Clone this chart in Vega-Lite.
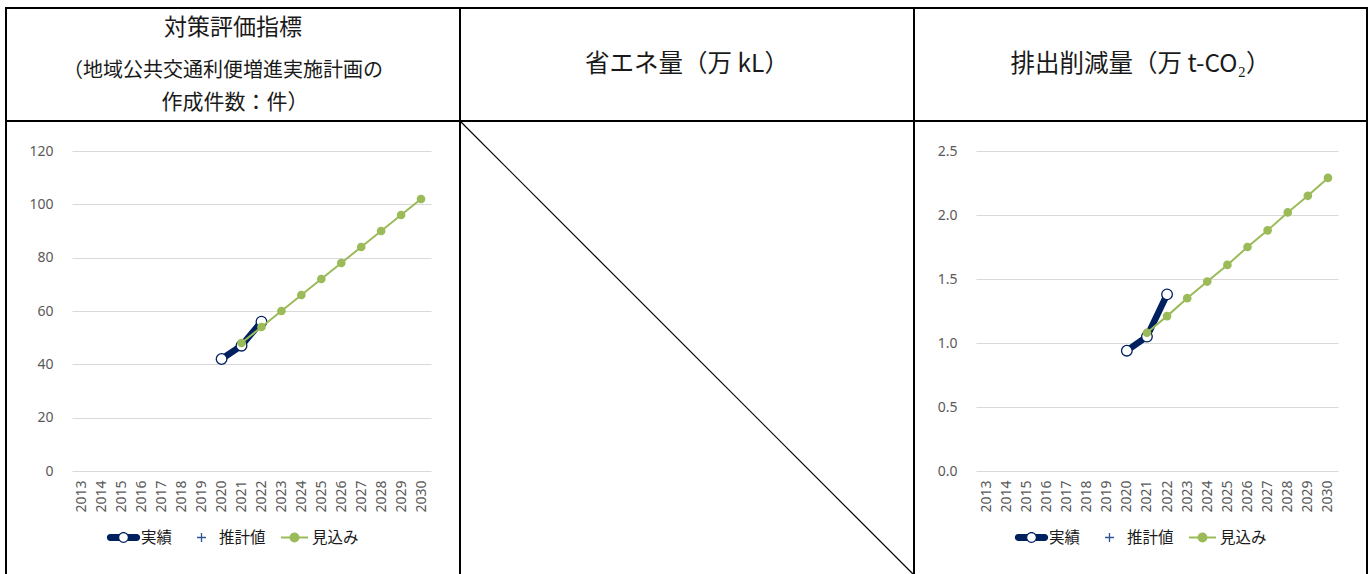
{
  "$schema": "https://vega.github.io/schema/vega-lite/v6.json",
  "background": "white",
  "padding": {"left": 5, "top": 7, "right": 0, "bottom": 0},
  "config": {
    "view": {"stroke": "#000000", "strokeWidth": 2},
    "concat": {"spacing": 0},
    "font": "Noto Sans CJK JP"
  },
  "datasets": {
    "count": [
      {"series": "実績", "year": 2020, "value": 42},
      {"series": "実績", "year": 2021, "value": 47},
      {"series": "実績", "year": 2022, "value": 56},
      {"series": "見込み", "year": 2021, "value": 48},
      {"series": "見込み", "year": 2022, "value": 54},
      {"series": "見込み", "year": 2023, "value": 60},
      {"series": "見込み", "year": 2024, "value": 66},
      {"series": "見込み", "year": 2025, "value": 72},
      {"series": "見込み", "year": 2026, "value": 78},
      {"series": "見込み", "year": 2027, "value": 84},
      {"series": "見込み", "year": 2028, "value": 90},
      {"series": "見込み", "year": 2029, "value": 96},
      {"series": "見込み", "year": 2030, "value": 102}
    ],
    "co2": [
      {"series": "実績", "year": 2020, "value": 0.94},
      {"series": "実績", "year": 2021, "value": 1.05},
      {"series": "実績", "year": 2022, "value": 1.38},
      {"series": "見込み", "year": 2021, "value": 1.08},
      {"series": "見込み", "year": 2022, "value": 1.21},
      {"series": "見込み", "year": 2023, "value": 1.35},
      {"series": "見込み", "year": 2024, "value": 1.48},
      {"series": "見込み", "year": 2025, "value": 1.61},
      {"series": "見込み", "year": 2026, "value": 1.75},
      {"series": "見込み", "year": 2027, "value": 1.88},
      {"series": "見込み", "year": 2028, "value": 2.02},
      {"series": "見込み", "year": 2029, "value": 2.15},
      {"series": "見込み", "year": 2030, "value": 2.29}
    ],
    "diag": [{"p": 0, "q": 1}, {"p": 1, "q": 0}],
    "titles": [{"l1": "対策評価指標", "l2": "（地域公共交通利便増進実施計画の", "l3": "作成件数：件）", "t2": "省エネ量（万 kL）", "t3": "排出削減量（万 t-CO₂）"}]
  },
  "columns": 3,
  "spacing": 0,
  "bounds": "flush",
  "align": "each",
  "resolve": {"scale": {"color": "independent", "shape": "independent"}, "legend": {"color": "independent", "shape": "independent"}},
  "concat": [
    {
      "width": 454, "height": 113,
      "data": {"name": "titles"},
      "encoding": {
        "x": {"datum": 0.5, "type": "quantitative", "scale": {"domain": [0, 1]}, "axis": null},
        "y": {"datum": 0.5, "type": "quantitative", "scale": {"domain": [0, 1]}, "axis": null}
      },
      "layer": [
        {"mark": {"type": "text", "fontSize": 23, "dy": -37, "color": "#1a1a1a"}, "encoding": {"text": {"field": "l1"}}},
        {"mark": {"type": "text", "fontSize": 20, "dy": 6, "dx": -10, "color": "#1a1a1a"}, "encoding": {"text": {"field": "l2"}}},
        {"mark": {"type": "text", "fontSize": 21, "dy": 38.5, "dx": 2, "color": "#1a1a1a"}, "encoding": {"text": {"field": "l3"}}}
      ]
    },
    {
      "width": 454, "height": 113,
      "data": {"name": "titles"},
      "mark": {"type": "text", "fontSize": 24.5, "color": "#1a1a1a"},
      "encoding": {
        "x": {"datum": 0.5, "type": "quantitative", "scale": {"domain": [0, 1]}, "axis": null},
        "y": {"datum": 0.5, "type": "quantitative", "scale": {"domain": [0, 1]}, "axis": null},
        "text": {"field": "t2"}
      }
    },
    {
      "width": 453, "height": 113,
      "data": {"name": "titles"},
      "mark": {"type": "text", "fontSize": 24.5, "color": "#1a1a1a"},
      "encoding": {
        "x": {"datum": 0.5, "type": "quantitative", "scale": {"domain": [0, 1]}, "axis": null},
        "y": {"datum": 0.5, "type": "quantitative", "scale": {"domain": [0, 1]}, "axis": null},
        "text": {"field": "t3"}
      }
    },
    {
      "width": 454, "height": 454,
      "data": {"name": "count"},
      "encoding": {
        "x": {"field": "year", "type": "ordinal",
          "scale": {"type": "point", "domain": [2013,2014,2015,2016,2017,2018,2019,2020,2021,2022,2023,2024,2025,2026,2027,2028,2029,2030], "range": [66, 425], "padding": 0.5},
          "axis": {"title": null, "orient": "bottom", "offset": -104, "labelAngle": 270, "labelPadding": 9, "domain": false, "ticks": false, "grid": false, "labelFontSize": 14, "labelColor": "#595959", "labelFont": "Noto Sans"}},
        "y": {"field": "value", "type": "quantitative",
          "scale": {"domain": [0, 120], "range": [350, 30], "nice": false},
          "axis": {"title": null, "orient": "left", "offset": -49, "values": [0, 20, 40, 60, 80, 100, 120], "grid": true, "gridColor": "#d9d9d9", "gridWidth": 1, "domain": false, "ticks": false, "labelPadding": 2, "labelFontSize": 14, "labelColor": "#595959", "labelFont": "Noto Sans"}}
      },
      "layer": [
        {"transform": [{"filter": "datum.series === '実績'"}], "mark": {"type": "line", "color": "#002060", "strokeWidth": 6.5, "strokeCap": "round"}},
        {"transform": [{"filter": "datum.series === '実績'"}], "mark": {"type": "point", "shape": "circle", "filled": true, "fill": "white", "stroke": "#002060", "strokeWidth": 1.3, "size": 113, "opacity": 1}},
        {"transform": [{"filter": "datum.series === '見込み'"}], "mark": {"type": "line", "color": "#9bbb59", "strokeWidth": 2}},
        {"transform": [{"filter": "datum.series === '見込み'"}], "mark": {"type": "point", "shape": "circle", "filled": true, "color": "#9bbb59", "size": 75, "opacity": 1}},
        {
          "transform": [{"filter": "false"}],
          "mark": {"type": "point", "filled": true, "opacity": 1},
          "encoding": {
            "color": {"field": "series", "type": "nominal",
              "scale": {"domain": ["実績", "推計値", "見込み"], "range": ["#002060", "#2f5597", "#9bbb59"]},
              "legend": {"orient": "none", "legendX": 101, "legendY": 400, "direction": "horizontal", "title": null, "symbolSize": 1089, "symbolStrokeWidth": 0, "symbolOpacity": 1, "labelFontSize": 15.5, "labelColor": "#1a1a1a", "labelFont": "Noto Sans CJK JP", "columnPadding": 12, "labelOffset": 1, "padding": 0}},
            "shape": {"field": "series", "type": "nominal",
              "scale": {"domain": ["実績", "推計値", "見込み"], "range": [
                "M -0.8 -0.21 L -0.26 -0.21 L -0.26 0.21 L -0.8 0.21 A 0.21 0.21 0 0 1 -0.8 -0.21 Z M 0.26 -0.21 L 0.8 -0.21 A 0.21 0.21 0 0 1 0.8 0.21 L 0.26 0.21 Z M -0.33 0 A 0.33 0.33 0 1 1 0.33 0 A 0.33 0.33 0 1 1 -0.33 0 Z M -0.26 0 A 0.26 0.26 0 1 0 0.26 0 A 0.26 0.26 0 1 0 -0.26 0 Z",
                "M -0.27 -0.04 L 0.27 -0.04 L 0.27 0.04 L -0.27 0.04 Z M -0.04 -0.27 L 0.04 -0.27 L 0.04 0.27 L -0.04 0.27 Z",
                "M -0.82 -0.06 L 0.82 -0.06 L 0.82 0.06 L -0.82 0.06 Z M -0.3 0 A 0.3 0.3 0 1 1 0.3 0 A 0.3 0.3 0 1 1 -0.3 0 Z"
              ]},
              "legend": {"orient": "none", "legendX": 101, "legendY": 400, "direction": "horizontal", "title": null, "symbolSize": 1089, "symbolStrokeWidth": 0, "symbolOpacity": 1, "labelFontSize": 15.5, "labelColor": "#1a1a1a", "labelFont": "Noto Sans CJK JP", "columnPadding": 12, "labelOffset": 1, "padding": 0}}
          }
        }
      ]
    },
    {
      "width": 454, "height": 454,
      "data": {"name": "diag"},
      "mark": {"type": "line", "color": "#000000", "strokeWidth": 1.2},
      "encoding": {
        "x": {"field": "p", "type": "quantitative", "scale": {"domain": [0, 1], "nice": false, "zero": false}, "axis": null},
        "y": {"field": "q", "type": "quantitative", "scale": {"domain": [0, 1], "nice": false, "zero": false}, "axis": null}
      }
    },
    {
      "width": 453, "height": 454,
      "data": {"name": "co2"},
      "encoding": {
        "x": {"field": "year", "type": "ordinal",
          "scale": {"type": "point", "domain": [2013,2014,2015,2016,2017,2018,2019,2020,2021,2022,2023,2024,2025,2026,2027,2028,2029,2030], "range": [62, 424], "padding": 0.5},
          "axis": {"title": null, "orient": "bottom", "offset": -104, "labelAngle": 270, "labelPadding": 9, "domain": false, "ticks": false, "grid": false, "labelFontSize": 14, "labelColor": "#595959", "labelFont": "Noto Sans"}},
        "y": {"field": "value", "type": "quantitative",
          "scale": {"domain": [0, 2.5], "range": [350, 30], "nice": false},
          "axis": {"title": null, "orient": "left", "offset": -45, "values": [0, 0.5, 1, 1.5, 2, 2.5], "format": ".1f", "grid": true, "gridColor": "#d9d9d9", "gridWidth": 1, "domain": false, "ticks": false, "labelPadding": 2, "labelFontSize": 14, "labelColor": "#595959", "labelFont": "Noto Sans"}}
      },
      "layer": [
        {"transform": [{"filter": "datum.series === '実績'"}], "mark": {"type": "line", "color": "#002060", "strokeWidth": 6.5, "strokeCap": "round"}},
        {"transform": [{"filter": "datum.series === '実績'"}], "mark": {"type": "point", "shape": "circle", "filled": true, "fill": "white", "stroke": "#002060", "strokeWidth": 1.3, "size": 113, "opacity": 1}},
        {"transform": [{"filter": "datum.series === '見込み'"}], "mark": {"type": "line", "color": "#9bbb59", "strokeWidth": 2}},
        {"transform": [{"filter": "datum.series === '見込み'"}], "mark": {"type": "point", "shape": "circle", "filled": true, "color": "#9bbb59", "size": 75, "opacity": 1}},
        {
          "transform": [{"filter": "false"}],
          "mark": {"type": "point", "filled": true, "opacity": 1},
          "encoding": {
            "color": {"field": "series", "type": "nominal",
              "scale": {"domain": ["実績", "推計値", "見込み"], "range": ["#002060", "#2f5597", "#9bbb59"]},
              "legend": {"orient": "none", "legendX": 101, "legendY": 400, "direction": "horizontal", "title": null, "symbolSize": 1089, "symbolStrokeWidth": 0, "symbolOpacity": 1, "labelFontSize": 15.5, "labelColor": "#1a1a1a", "labelFont": "Noto Sans CJK JP", "columnPadding": 12, "labelOffset": 1, "padding": 0}},
            "shape": {"field": "series", "type": "nominal",
              "scale": {"domain": ["実績", "推計値", "見込み"], "range": [
                "M -0.8 -0.21 L -0.26 -0.21 L -0.26 0.21 L -0.8 0.21 A 0.21 0.21 0 0 1 -0.8 -0.21 Z M 0.26 -0.21 L 0.8 -0.21 A 0.21 0.21 0 0 1 0.8 0.21 L 0.26 0.21 Z M -0.33 0 A 0.33 0.33 0 1 1 0.33 0 A 0.33 0.33 0 1 1 -0.33 0 Z M -0.26 0 A 0.26 0.26 0 1 0 0.26 0 A 0.26 0.26 0 1 0 -0.26 0 Z",
                "M -0.27 -0.04 L 0.27 -0.04 L 0.27 0.04 L -0.27 0.04 Z M -0.04 -0.27 L 0.04 -0.27 L 0.04 0.27 L -0.04 0.27 Z",
                "M -0.82 -0.06 L 0.82 -0.06 L 0.82 0.06 L -0.82 0.06 Z M -0.3 0 A 0.3 0.3 0 1 1 0.3 0 A 0.3 0.3 0 1 1 -0.3 0 Z"
              ]},
              "legend": {"orient": "none", "legendX": 101, "legendY": 400, "direction": "horizontal", "title": null, "symbolSize": 1089, "symbolStrokeWidth": 0, "symbolOpacity": 1, "labelFontSize": 15.5, "labelColor": "#1a1a1a", "labelFont": "Noto Sans CJK JP", "columnPadding": 12, "labelOffset": 1, "padding": 0}}
          }
        }
      ]
    }
  ]
}
